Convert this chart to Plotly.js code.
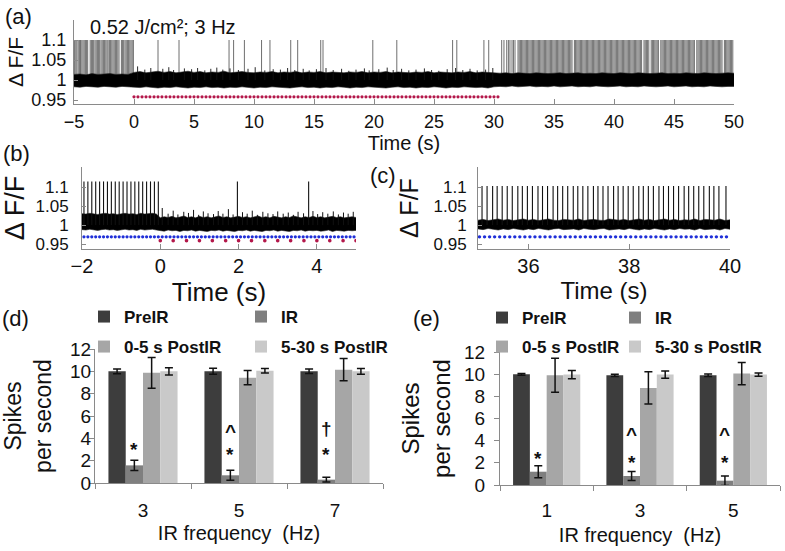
<!DOCTYPE html>
<html><head><meta charset="utf-8">
<script src="https://cdn.plot.ly/plotly-3.0.1.min.js"></script>
<style>html,body{margin:0;padding:0;background:#fff}#chart{width:785px;height:551px}</style>
</head><body><div id="chart"></div>
<script>
// ================= DATA =================
// ---- (a) full recording, 0.52 J/cm^2, 3 Hz ----
const aSpikeTimes = [
  -4.95,-4.85,-4.76,-4.65,-4.55,-4.46,-4.35,-4.25,-4.15,-4.05,-3.95,-3.86,-3.65,-3.55,-3.45,-3.36,-3.25,-3.15,-3.05,-2.95,
  -2.86,-2.75,-2.65,-2.55,-2.45,-2.35,-2.25,-2.16,-2.05,-1.95,-1.85,-1.75,-1.65,-1.55,-1.45,-1.35,-1.25,-1.05,-0.95,-0.86,
  -0.75,-0.65,-0.55,-0.45,-0.35,-0.25,-0.15,-0.05,
  2.0,3.75,7.92,8.3,9.2,10.63,11.33,13.06,13.64,15.56,15.75,19.9,21.9,26.55,26.9,29.16,29.56,
  30.64,30.83,31.06,31.2,31.33,31.5,31.62,31.75,
  32.0,32.1,32.2,32.3,32.4,32.5,32.6,32.7,32.8,32.9,
  33.0,33.1,33.2,33.3,33.4,33.5,33.6,33.7,33.8,33.9,
  34.0,34.1,34.2,34.3,34.4,34.5,34.6,34.7,34.8,34.9,
  35.0,35.1,35.2,35.3,35.4,35.5,35.6,35.7,35.8,35.9,
  36.0,36.1,36.2,36.3,36.4,36.5,36.7,36.8,36.9,
  37.0,37.1,37.2,37.3,37.4,37.5,37.6,37.7,37.8,37.9,
  38.0,38.1,38.2,38.3,38.4,38.5,38.6,38.7,38.8,38.9,
  39.0,39.1,39.2,39.3,39.4,39.5,39.6,39.7,39.8,39.9,
  40.0,40.1,40.2,40.3,40.4,40.5,40.6,40.7,40.8,40.9,
  41.0,41.1,41.2,41.3,41.4,41.5,41.6,41.7,41.8,41.9,
  42.0,42.1,42.2,42.3,42.5,42.6,42.7,42.8,42.9,
  43.1,43.2,43.3,43.4,43.5,43.6,43.7,43.9,
  44.0,44.1,44.2,44.3,44.4,44.5,44.6,44.7,44.8,44.9,
  45.0,45.1,45.2,45.3,45.4,45.5,45.6,45.7,45.8,45.9,
  46.0,46.1,46.2,46.3,46.4,46.5,46.6,46.7,46.9,
  47.0,47.1,47.2,47.3,47.4,47.5,47.6,47.7,47.8,47.9,
  48.0,48.1,48.2,48.3,48.4,48.5,48.6,48.7,48.8,48.9,
  49.0,49.2,49.3,49.4,49.5,49.6,49.7,49.8,49.9
];
const aSpikeBase = 1.0, aSpikePeak = 1.1;
const aStimTimes = [
  0,0.33,0.67,1,1.33,1.67,2,2.33,2.67,3,3.33,3.67,4,4.33,4.67,5,5.33,5.67,6,6.33,6.67,7,7.33,7.67,8,8.33,8.67,9,9.33,9.67,
  10,10.33,10.67,11,11.33,11.67,12,12.33,12.67,13,13.33,13.67,14,14.33,14.67,15,15.33,15.67,16,16.33,16.67,17,17.33,17.67,
  18,18.33,18.67,19,19.33,19.67,20,20.33,20.67,21,21.33,21.67,22,22.33,22.67,23,23.33,23.67,24,24.33,24.67,25,25.33,25.67,
  26,26.33,26.67,27,27.33,27.67,28,28.33,28.67,29,29.33,29.67,30,30.33
];
const aStimLevel = 0.958;
const aNoiseStart = -5, aNoiseStep = 0.5;
const aNoiseHi = [
  1.014,1.015,1.013,1.016,1.014,1.015,1.016,1.014,1.015,1.014,
  1.019,1.021,1.018,1.020,1.022,1.019,1.021,1.018,1.020,1.022,
  1.019,1.021,1.018,1.020,1.019,1.022,1.018,1.020,1.021,1.019,
  1.018,1.020,1.019,1.021,1.018,1.020,1.019,1.021,1.018,1.020,
  1.019,1.021,1.018,1.020,1.019,1.018,1.020,1.019,1.021,1.018,
  1.020,1.019,1.021,1.018,1.020,1.019,1.018,1.020,1.019,1.021,
  1.018,1.020,1.019,1.018,1.020,1.019,1.021,1.018,1.020,1.019,
  1.018,1.017,1.018,1.016,1.018,1.017,1.016,1.018,1.017,1.016,
  1.017,1.018,1.016,1.017,1.018,1.016,1.017,1.016,1.018,1.017,
  1.016,1.018,1.017,1.016,1.018,1.017,1.016,1.017,1.018,1.016,
  1.017,1.016,1.018,1.017,1.016,1.018,1.017,1.016,1.017,1.018,
  1.017
];
const aNoiseLo = [
  0.983,0.982,0.984,0.983,0.982,0.984,0.983,0.982,0.984,0.983,
  0.982,0.981,0.983,0.982,0.980,0.982,0.981,0.983,0.982,0.980,
  0.982,0.981,0.983,0.981,0.982,0.980,0.982,0.981,0.983,0.982,
  0.980,0.982,0.981,0.983,0.982,0.981,0.980,0.982,0.983,0.981,
  0.982,0.980,0.982,0.981,0.983,0.982,0.980,0.982,0.981,0.983,
  0.982,0.981,0.980,0.982,0.983,0.981,0.982,0.980,0.982,0.981,
  0.983,0.982,0.980,0.982,0.981,0.983,0.982,0.981,0.982,0.980,
  0.983,0.984,0.983,0.985,0.983,0.984,0.985,0.983,0.984,0.983,
  0.985,0.983,0.984,0.985,0.983,0.984,0.983,0.985,0.984,0.983,
  0.984,0.985,0.983,0.984,0.983,0.985,0.984,0.983,0.984,0.985,
  0.983,0.984,0.985,0.983,0.984,0.983,0.985,0.984,0.983,0.984,
  0.984
];
const aNoisePeakTimes = [0.3,0.9,1.4,2.4,2.9,3.3,4.2,4.8,5.3,5.9,6.4,6.9,7.4,8.0,8.7,9.5,10.1,10.9,11.6,12.2,12.8,13.4,14.1,14.6,
  15.2,16.0,16.6,17.3,17.9,18.5,19.2,19.6,20.4,21.1,21.6,22.3,22.9,23.5,24.2,24.8,25.4,26.1,26.8,27.4,28.0,28.6,29.3,29.9];
const aNoisePeakVals = [1.034,1.026,1.03,1.028,1.032,1.025,1.029,1.027,1.03,1.024,1.028,1.031,1.026,1.029,1.025,1.028,1.032,1.024,
  1.027,1.026,1.03,1.025,1.028,1.024,1.027,1.03,1.025,1.028,1.023,1.026,1.029,1.024,1.027,1.031,1.025,1.028,1.024,1.026,1.029,
  1.025,1.023,1.027,1.03,1.025,1.028,1.024,1.026,1.03];

// ---- (b) zoom on IR onset ----
const bSpikeTimes = [-1.95,-1.85,-1.75,-1.65,-1.55,-1.45,-1.35,-1.25,-1.15,-1.05,-0.95,-0.85,-0.75,-0.65,-0.55,-0.45,-0.35,-0.25,-0.15,-0.05,1.97,3.79];
const bSpikeBase = 1.0, bSpikePeak = 1.115;
const bStimTimes = [0,0.33,0.67,1,1.33,1.67,2,2.33,2.67,3,3.33,3.67,4,4.33,4.67,5];
const bStimLevel = 0.959;
const bMarkTimes = [
  -1.95,-1.85,-1.75,-1.65,-1.55,-1.45,-1.35,-1.25,-1.15,-1.05,-0.95,-0.85,-0.75,-0.65,-0.55,-0.45,-0.35,-0.25,-0.15,-0.05,
  0.05,0.15,0.25,0.35,0.45,0.55,0.65,0.75,0.85,0.95,1.05,1.15,1.25,1.35,1.45,1.55,1.65,1.75,1.85,1.95,
  2.05,2.15,2.25,2.35,2.45,2.55,2.65,2.75,2.85,2.95,3.05,3.15,3.25,3.35,3.45,3.55,3.65,3.75,3.85,3.95,
  4.05,4.15,4.25,4.35,4.45,4.55,4.65,4.75,4.85,4.95
];
const bMarkLevel = 0.969;
const bNoiseStart = -2, bNoiseStep = 0.1;
const bNoiseHi = [
  1.030,1.029,1.031,1.030,1.028,1.030,1.031,1.029,1.030,1.028,
  1.030,1.031,1.029,1.030,1.028,1.031,1.029,1.030,1.031,1.029,
  1.019,1.022,1.020,1.023,1.019,1.021,1.024,1.020,1.022,1.019,
  1.023,1.020,1.022,1.019,1.021,1.024,1.020,1.022,1.019,1.021,
  1.023,1.020,1.022,1.019,1.021,1.024,1.020,1.022,1.019,1.023,
  1.021,1.019,1.022,1.020,1.024,1.021,1.019,1.022,1.020,1.023,
  1.020,1.022,1.019,1.021,1.023,1.020,1.022,1.019,1.021,1.022,
  1.020
];
const bNoiseLo = [
  0.988,0.987,0.989,0.988,0.986,0.988,0.989,0.987,0.988,0.986,
  0.988,0.989,0.987,0.988,0.986,0.989,0.987,0.988,0.989,0.987,
  0.986,0.984,0.987,0.985,0.986,0.983,0.986,0.985,0.987,0.984,
  0.986,0.985,0.983,0.986,0.985,0.987,0.984,0.986,0.985,0.983,
  0.986,0.985,0.987,0.984,0.986,0.985,0.983,0.986,0.985,0.987,
  0.984,0.986,0.985,0.983,0.986,0.985,0.987,0.984,0.986,0.985,
  0.986,0.984,0.985,0.987,0.983,0.986,0.985,0.984,0.986,0.985,
  0.986
];
const bNoisePeakTimes = [0.05,0.2,0.33,0.45,0.6,0.72,0.85,0.98,1.1,1.22,1.36,1.48,1.6,1.74,1.86,2.1,2.22,2.35,2.48,2.62,2.75,2.88,
  3.0,3.14,3.27,3.4,3.52,3.66,3.9,4.02,4.15,4.28,4.42,4.55,4.68,4.8,4.93];
const bNoisePeakVals = [1.045,1.03,1.038,1.028,1.035,1.032,1.04,1.027,1.036,1.031,1.029,1.037,1.03,1.042,1.028,1.034,1.03,1.038,
  1.027,1.035,1.031,1.029,1.036,1.03,1.033,1.027,1.035,1.031,1.037,1.029,1.034,1.03,1.036,1.028,1.033,1.03,1.035];

// ---- (c) zoom on post-IR recovery ----
const cSpikeTimes = [
  35.08,35.18,35.29,35.38,35.48,35.58,35.68,35.79,35.88,35.98,
  36.08,36.19,36.28,36.38,36.49,36.58,36.68,36.78,36.89,36.98,
  37.08,37.18,37.29,37.38,37.48,37.58,37.69,37.78,37.88,37.98,
  38.08,38.19,38.28,38.38,38.48,38.59,38.68,38.78,38.88,38.98,
  39.09,39.18,39.28,39.38,39.48,39.59,39.68,39.78,39.92
];
const cSpikeBase = 1.0, cSpikePeak = 1.103;
const cMarkTimes = [
  35.03,35.13,35.23,35.33,35.43,35.53,35.63,35.73,35.83,35.93,
  36.03,36.13,36.23,36.33,36.43,36.53,36.63,36.73,36.83,36.93,
  37.03,37.13,37.23,37.33,37.43,37.53,37.63,37.73,37.83,37.93,
  38.03,38.13,38.23,38.33,38.43,38.53,38.63,38.73,38.83,38.93,
  39.03,39.13,39.23,39.33,39.43,39.53,39.63,39.73,39.83,39.93
];
const cMarkLevel = 0.969;
const cNoiseStart = 35, cNoiseStep = 0.1;
const cNoiseHi = [
  1.013,1.015,1.012,1.014,1.016,1.013,1.015,1.012,1.014,1.016,
  1.013,1.015,1.012,1.014,1.016,1.013,1.012,1.015,1.014,1.013,
  1.016,1.012,1.014,1.015,1.013,1.012,1.016,1.014,1.013,1.015,
  1.012,1.014,1.016,1.013,1.015,1.012,1.014,1.016,1.013,1.015,
  1.012,1.014,1.013,1.016,1.012,1.015,1.014,1.013,1.016,1.012,
  1.014
];
const cNoiseLo = [
  0.990,0.988,0.991,0.989,0.987,0.990,0.988,0.991,0.989,0.987,
  0.990,0.988,0.991,0.989,0.987,0.990,0.991,0.988,0.989,0.990,
  0.987,0.991,0.989,0.988,0.990,0.991,0.987,0.989,0.990,0.988,
  0.991,0.989,0.987,0.990,0.988,0.991,0.989,0.987,0.990,0.988,
  0.991,0.989,0.990,0.987,0.991,0.988,0.989,0.990,0.987,0.991,
  0.989
];

// ---- (d), (e) spike-rate bar charts ----
const seriesNames = ['PreIR', 'IR', '0-5 s PostIR', '5-30 s PostIR'];
const dCategories = ['3', '5', '7'];
const dPreIR = [10.0, 10.0, 10.0],    dPreIRErr = [0.22, 0.27, 0.2];
const dIR = [1.58, 0.69, 0.30],       dIRErr = [0.45, 0.45, 0.22];
const dPost05 = [9.87, 9.43, 10.15],  dPost05Err = [1.38, 0.64, 1.0];
const dPost530 = [10.0, 10.06, 10.0], dPost530Err = [0.33, 0.2, 0.25];
const dSigLower = ['*', '*', '*'];
const dSigUpper = ['', '^', '\u2020'];

const eCategories = ['1', '3', '5'];
const ePreIR = [9.99, 9.9, 9.9],      ePreIRErr = [0.08, 0.1, 0.12];
const eIR = [1.2, 0.81, 0.39],        eIRErr = [0.54, 0.4, 0.43];
const ePost05 = [9.9, 8.76, 10.05],   ePost05Err = [1.53, 1.46, 1.0];
const ePost530 = [9.96, 9.96, 9.96],  ePost530Err = [0.37, 0.33, 0.15];
const eSigLower = ['*', '*', '*'];
const eSigUpper = ['', '^', '^'];

// ================= STYLE / BUILD =================
const FONT = 'Liberation Sans, Arial, sans-serif';
const AXC = '#8a8a8a';
const barColors = ['#3d3d3d', '#7f7f7f', '#a6a6a6', '#c9c9c9'];
const stimColor = '#b3174a', markColor = '#1f2fd8';

function spikeTrace(times, base, peaks, xa, ya, color, width) {
  const x = [], y = [];
  times.forEach((t, i) => { x.push(t, t, null); y.push(base, Array.isArray(peaks) ? peaks[i] : peaks, null); });
  return {type: 'scatter', mode: 'lines', x, y, xaxis: xa, yaxis: ya,
    line: {color, width}, hoverinfo: 'skip', showlegend: false};
}
function bandTraces(x0, dx, lo, hi, xa, ya) {
  return [
    {type: 'scatter', mode: 'lines', x0, dx, y: lo, xaxis: xa, yaxis: ya,
     line: {color: '#222', width: 0.6}, hoverinfo: 'skip', showlegend: false},
    {type: 'scatter', mode: 'lines', x0, dx, y: hi, xaxis: xa, yaxis: ya, fill: 'tonexty',
     fillcolor: '#000', line: {color: '#222', width: 0.6}, hoverinfo: 'skip', showlegend: false}
  ];
}
function dotTrace(times, level, xa, ya, color, size) {
  return {type: 'scatter', mode: 'markers', x: times, y: times.map(() => level), xaxis: xa, yaxis: ya,
    marker: {color, size, line: {width: 0}}, hoverinfo: 'skip', showlegend: false};
}

const traces = [];
// (a)
traces.push(spikeTrace(aSpikeTimes, aSpikeBase, aSpikePeak, 'x', 'y', '#5e5e5e', 0.9));
traces.push(...bandTraces(aNoiseStart, aNoiseStep, aNoiseLo, aNoiseHi, 'x', 'y'));
traces.push(spikeTrace(aNoisePeakTimes, aSpikeBase, aNoisePeakVals, 'x', 'y', '#111', 0.9));
traces.push(dotTrace(aStimTimes, aStimLevel, 'x', 'y', stimColor, 3.2));
// (b)
traces.push(...bandTraces(bNoiseStart, bNoiseStep, bNoiseLo, bNoiseHi, 'x2', 'y2'));
traces.push(spikeTrace(bNoisePeakTimes, bSpikeBase, bNoisePeakVals, 'x2', 'y2', '#111', 1));
traces.push(spikeTrace(bSpikeTimes, bSpikeBase, bSpikePeak, 'x2', 'y2', '#111', 1.1));
traces.push(dotTrace(bMarkTimes, bMarkLevel, 'x2', 'y2', markColor, 3.2));
traces.push(dotTrace(bStimTimes, bStimLevel, 'x2', 'y2', stimColor, 3.6));
// (c)
traces.push(...bandTraces(cNoiseStart, cNoiseStep, cNoiseLo, cNoiseHi, 'x3', 'y3'));
traces.push(spikeTrace(cSpikeTimes, cSpikeBase, cSpikePeak, 'x3', 'y3', '#111', 1.1));
traces.push(dotTrace(cMarkTimes, cMarkLevel, 'x3', 'y3', markColor, 3.4));

// bars
function barSet(cats, vals, errs, xa, ya, legTop, legBottom, widths) {
  return vals.map((v, i) => ({
    type: 'bar', name: seriesNames[i], x: cats, y: v, xaxis: xa, yaxis: ya,
    marker: {color: barColors[i], line: {width: 0}},
    error_y: {type: 'data', array: errs[i], visible: true, color: '#111', thickness: 1.5, width: 4},
    legend: i < 2 ? legTop : legBottom, legendwidth: widths[i % 2], hoverinfo: 'skip'
  }));
}
traces.push(...barSet(dCategories, [dPreIR, dIR, dPost05, dPost530], [dPreIRErr, dIRErr, dPost05Err, dPost530Err],
  'x4', 'y4', 'legend', 'legend2', [112, 125]));
traces.push(...barSet(eCategories, [ePreIR, eIR, ePost05, ePost530], [ePreIRErr, eIRErr, ePost05Err, ePost530Err],
  'x5', 'y5', 'legend3', 'legend4', [88, 125]));

// significance marks above the IR bars
const BARGAP = 0.28;
const irOffset = -(1 - BARGAP) / 8;   // centre of 2nd of 4 bars in a group
function sigAnnots(ir, irErr, lower, upper, xa, ya, clear, minLevel, step) {
  const out = [];
  ir.forEach((v, i) => {
    const yl = Math.max(v + irErr[i] + clear, minLevel);
    out.push({xref: xa, yref: ya, x: i + irOffset, y: yl, text: lower[i], showarrow: false,
      font: {size: 19, family: FONT, color: '#111', weight: 'bold'}, yshift: -4});
    if (upper[i]) out.push({xref: xa, yref: ya, x: i + irOffset, y: yl + step, text: upper[i], showarrow: false,
      font: {size: 19, family: FONT, color: '#111', weight: 'bold'}, yshift: upper[i] === '^' ? -3 : 0});
  });
  return out;
}

function px(x) { return x / 785; }
function py(y) { return 1 - y / 551; }
function panelLabel(t, x, y) {
  return {xref: 'paper', yref: 'paper', x: px(x), y: py(y), xanchor: 'left', yanchor: 'middle',
    text: t, showarrow: false, font: {size: 22, family: FONT, color: '#111'}};
}

const timeY = {
  range: [0.94, 1.15], tickvals: [0.95, 1, 1.05, 1.1], ticktext: ['0.95', '1', '1.05', '1.1'],
  ticks: 'inside', ticklen: 4, tickcolor: AXC, showline: true, linecolor: AXC, linewidth: 1,
  showgrid: false, zeroline: false
};
const timeX = {ticks: 'inside', ticklen: 5, tickcolor: AXC, showline: true, linecolor: AXC, linewidth: 1,
  showgrid: false, zeroline: false};
const barX = {type: 'category', tickson: 'boundaries', ticks: 'outside', ticklen: 5, tickcolor: AXC,
  showline: true, linecolor: AXC, linewidth: 1, showgrid: false, zeroline: false};
const barY = {range: [0, 12], dtick: 2, ticks: 'outside', ticklen: 5, tickcolor: AXC, showline: true,
  linecolor: AXC, linewidth: 1, showgrid: false, zeroline: false};

function legendBox(x, y, entry) {
  return {orientation: 'h', x: px(x), y: py(y), xanchor: 'left', yanchor: 'middle',
    entrywidth: entry, entrywidthmode: 'pixels', bgcolor: 'rgba(0,0,0,0)',
    font: {size: 17, family: FONT, color: '#111', weight: 'bold'}, traceorder: 'normal'};
}

const layout = {
  width: 785, height: 551, margin: {l: 0, r: 0, t: 0, b: 0},
  paper_bgcolor: '#fff', plot_bgcolor: 'rgba(0,0,0,0)',
  font: {family: FONT, color: '#111'},
  showlegend: true, hovermode: false,
  barmode: 'group', bargap: BARGAP, bargroupgap: 0,
  xaxis: Object.assign({}, timeX, {anchor: 'y', domain: [px(74), px(734)], range: [-5, 50], dtick: 5, tick0: 0,
    tickfont: {size: 18}, ticklabelstandoff: 1, title: {text: 'Time (s)', font: {size: 20}, standoff: 0}}),
  yaxis: Object.assign({}, timeY, {anchor: 'x', domain: [py(104), py(20)],
    tickfont: {size: 18}, ticklabelstandoff: 3, title: {text: '\u0394 F/F', font: {size: 21}, standoff: 2}}),
  xaxis2: Object.assign({}, timeX, {anchor: 'y2', domain: [px(82), px(356)], range: [-2, 5], dtick: 2, tick0: 0,
    tickfont: {size: 20}, ticklabelstandoff: -1, title: {text: 'Time (s)', font: {size: 26}, standoff: 0}}),
  yaxis2: Object.assign({}, timeY, {anchor: 'x2', domain: [py(249), py(167)], range: [0.937, 1.153],
    tickfont: {size: 17}, ticklabelstandoff: 9, title: {text: '\u0394 F/F', font: {size: 27}, standoff: 7}}),
  xaxis3: Object.assign({}, timeX, {anchor: 'y3', domain: [px(478), px(730)], range: [35, 40], dtick: 2, tick0: 0,
    tickfont: {size: 20}, ticklabelstandoff: -1, title: {text: 'Time (s)', font: {size: 24}, standoff: 0}}),
  yaxis3: Object.assign({}, timeY, {anchor: 'x3', domain: [py(249), py(167)], range: [0.937, 1.153],
    tickfont: {size: 17}, ticklabelstandoff: 7, title: {text: '\u0394 F/F', font: {size: 25}, standoff: 7}}),
  xaxis4: Object.assign({}, barX, {anchor: 'y4', domain: [px(95), px(383)],
    tickfont: {size: 19}, ticklabelstandoff: 10, title: {text: 'IR frequency  (Hz)', font: {size: 20}, standoff: 6}}),
  yaxis4: Object.assign({}, barY, {anchor: 'x4', domain: [py(483), py(349)],
    tickfont: {size: 19}, ticklabelstandoff: -6, title: {text: 'Spikes<br>per second', font: {size: 23}, standoff: 25}}),
  xaxis5: Object.assign({}, barX, {anchor: 'y5', domain: [px(500), px(780)],
    tickfont: {size: 19}, ticklabelstandoff: 8, title: {text: 'IR frequency  (Hz)', font: {size: 20}, standoff: 8}}),
  yaxis5: Object.assign({}, barY, {anchor: 'x5', domain: [py(485), py(352)],
    tickfont: {size: 19}, ticklabelstandoff: 5, title: {text: 'Spikes<br>per second', font: {size: 24}, standoff: 6}}),
  legend: legendBox(84, 317, 112),
  legend2: legendBox(84, 347, 112),
  legend3: legendBox(482, 318, 88),
  legend4: legendBox(482, 347, 88),
  annotations: [
    panelLabel('(a)', 3, 16),
    {xref: 'paper', yref: 'paper', x: px(88), y: py(27), xanchor: 'left', yanchor: 'middle', showarrow: false,
      text: '0.52 J/cm\u00b2; 3 Hz', font: {size: 20, family: FONT, color: '#111'}},
    panelLabel('(b)', 1, 153),
    panelLabel('(c)', 368, 175),
    panelLabel('(d)', 0, 318),
    panelLabel('(e)', 411, 318)
  ].concat(
    sigAnnots(dIR, dIRErr, dSigLower, dSigUpper, 'x4', 'y4', 1.3, 2.9, 2.0),
    sigAnnots(eIR, eIRErr, eSigLower, eSigUpper, 'x5', 'y5', 1.0, 2.4, 2.4)
  )
};

Plotly.newPlot('chart', traces, layout, {staticPlot: true, displayModeBar: false});
</script>
</body></html>
